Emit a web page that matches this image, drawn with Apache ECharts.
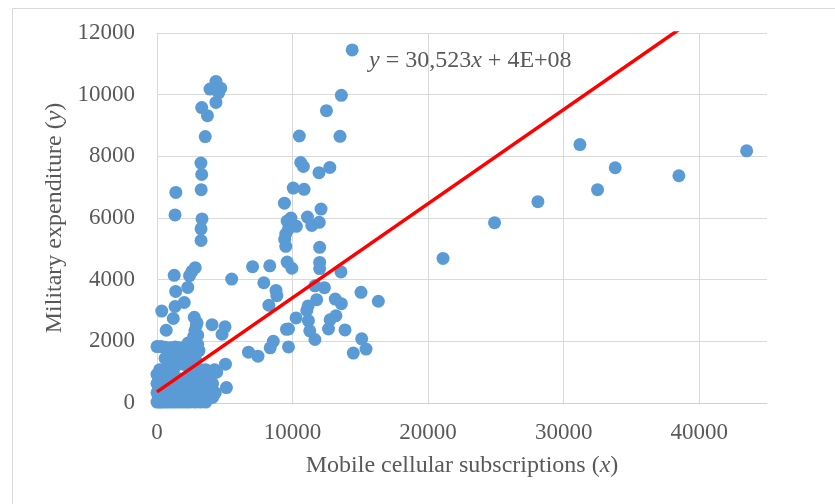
<!DOCTYPE html>
<html>
<head>
<meta charset="utf-8">
<script src="https://cdn.jsdelivr.net/npm/echarts@6/dist/echarts.min.js"></script>
<style>html,body{margin:0;padding:0;background:#fff}#c{width:835px;height:504px}</style>
</head>
<body>
<div id="c"></div>
<script>
// ---- Data ----
var xTicks = [0, 10000, 20000, 30000, 40000];
var yTicks = [0, 2000, 4000, 6000, 8000, 10000, 12000];
var trendSlope = 0.30523;
var trendIntercept = 360;
var trendXRange = [0, 43500];

var farRight = [[21100,4690],[24900,5850],[28100,6530],[31200,8380],[32500,6920],[33800,7630],[38500,7370],[43500,8180]];

var midHigh = [[14400,11450],[13600,9980],[12500,9480],[13500,8650],[10500,8660],[10600,7800],[10800,7670],[11950,7470],[12750,7640],
  [10050,6970],[10850,6930],[9400,6480],[12100,6290],[9880,6000],[11100,6030],[11420,5760],[11970,5860],[10280,5730],[9500,5480],
  [9420,5310],[9500,5080],[12000,5050],[9600,5900],[9700,5650]];

var midCluster = [[9600,4570],[9950,4370],[12000,4560],[12000,4360],[13570,4250],[7050,4420],[8320,4450],[5510,4020],[7880,3900],
  [8780,3650],[8840,3480],[8250,3170],[11650,3800],[12350,3740],[11780,3350],[13150,3370],[13600,3220],[15050,3590],[16330,3300],
  [11150,3150],[11050,3000],[10260,2760],[11170,2670],[12770,2700],[13200,2830],[12650,2400],[9700,2400],[9550,2390],[11270,2340],
  [11650,2060],[13870,2370],[15100,2080],[15420,1750],[14480,1620],[9700,1820],[8580,2000],[8350,1790],[6750,1650],[7450,1520],
  [5050,1260],[5120,500]];

var leftColumn = [[4350,10430],[3910,10180],[4700,10210],[4350,9750],[4550,10060],[3300,9580],[3720,9320],[3560,8640],[3240,7780],
  [3300,7410],[3260,6920],[3320,5970],[3250,5650],[3250,5270],[1390,6830],[1330,6100],
  [2820,4390],[2580,4270],[2400,4130],[1270,4140],[1380,3620],[2270,3750],[2010,3260],[1330,3130],[350,2980],[1200,2740],
  [680,2360],[2750,2780],[2900,2520],[4060,2540],[5020,2470],[4800,2230]];

var leftLow = [[0,1830],[300,1830],[600,1810],[1000,1790],[1350,1820],[1550,1800],[1900,1760],[2150,1850],[2400,1650],[2600,1950],
  [2700,2150],[2800,2350],[2950,2600],[2500,1450],[2700,1700],[2850,1950],[3000,2200],[2200,1450],[2000,1250],[1800,1550],
  [1600,1350],[1400,1650],[1200,1500],[1000,1350],[800,1150],[600,1450],[1300,1150],[2300,1950],[2600,1200],[2850,1400],
  [3100,1700],[3000,1900]];

var bottomBlob = [
  [0,30],[200,30],[400,30],[650,30],[900,30],[1200,30],[1500,30],[1800,30],[2100,30],[2400,30],[2800,30],[3200,30],[3600,30],
  [100,180],[350,180],[600,180],[850,180],[1100,180],[1400,180],[1700,180],[2000,180],[2300,180],[2600,180],[2900,180],[3300,180],[3700,180],[4100,180],
  [0,330],[250,330],[500,330],[750,330],[1000,330],[1300,330],[1600,330],[1900,330],[2200,330],[2500,330],[2800,330],[3100,330],[3400,330],[3800,330],[4300,330],
  [150,480],[400,480],[650,480],[900,480],[1200,480],[1500,480],[1800,480],[2100,480],[2400,480],[2700,480],[3000,480],[3300,480],[3600,480],[3900,480],
  [0,630],[300,630],[550,630],[800,630],[1050,630],[1350,630],[1650,630],[1950,630],[2250,630],[2550,630],[2850,630],[3150,630],[3450,630],[3750,630],[4100,630],
  [150,780],[450,780],[700,780],[1000,780],[1300,780],[1700,780],[2300,780],[2600,780],[2900,780],[3200,780],[3500,780],[3900,780],
  [0,930],[300,930],[600,930],[900,930],[1200,930],[2400,930],[2800,930],[3100,930],[3400,930],[3700,930],[4000,930],
  [200,1080],[500,1080],[3000,1080],[3300,1080],[3600,1080],[4250,1080],[4400,1000]];

var points = [].concat(farRight, midHigh, midCluster, leftColumn, leftLow, bottomBlob);

var FONT = '"Liberation Serif", "Times New Roman", serif';
var TXT = '#595959';

var chart = echarts.init(document.getElementById('c'), null, {renderer: 'canvas'});
chart.setOption({
  animation: false,
  backgroundColor: '#ffffff',
  grid: {left: 157, right: 68, top: 33, bottom: 101, containLabel: false},
  xAxis: {
    type: 'value', min: 0, max: 45000, interval: 10000,
    name: '{n|Mobile cellular subscriptions (}{i|x}{n|)}',
    nameLocation: 'middle', nameGap: 51,
    nameTextStyle: {rich: {
      n: {fontFamily: FONT, fontSize: 24, color: TXT},
      i: {fontFamily: FONT, fontSize: 24, color: TXT, fontStyle: 'italic'}
    }},
    axisLine: {show: true, lineStyle: {color: '#d0d0d0', width: 1}},
    axisTick: {show: false},
    axisLabel: {fontFamily: FONT, fontSize: 23, color: TXT, margin: 18, showMaxLabel: false,
      formatter: function (v) { return xTicks.indexOf(v) >= 0 ? String(v) : ''; }},
    splitLine: {show: true, showMaxLine: false, lineStyle: {color: '#d9d9d9', width: 1}}
  },
  yAxis: {
    type: 'value', min: 0, max: 12000, interval: 2000,
    name: '{n|Military expenditure (}{i|y}{n|)}',
    nameLocation: 'middle', nameGap: 84, nameRotate: 90,
    nameTextStyle: {rich: {
      n: {fontFamily: FONT, fontSize: 24, color: TXT},
      i: {fontFamily: FONT, fontSize: 24, color: TXT, fontStyle: 'italic'}
    }},
    axisLine: {show: false},
    axisTick: {show: false},
    axisLabel: {fontFamily: FONT, fontSize: 23, color: TXT, margin: 22,
      formatter: function (v) { return yTicks.indexOf(v) >= 0 ? String(v) : ''; }},
    splitLine: {show: true, lineStyle: {color: '#d9d9d9', width: 1}}
  },
  series: [
    {
      type: 'scatter', data: points, symbol: 'circle', symbolSize: 13,
      itemStyle: {color: '#5B9BD5', opacity: 1}, z: 2
    },
    {
      type: 'line', clip: true, symbol: 'none', z: 3,
      data: trendXRange.map(function (x) { return [x, trendSlope * x + trendIntercept]; }),
      lineStyle: {color: '#FF0000', width: 3.5}
    }
  ],
  graphic: [
    {type: 'rect', shape: {x: 12.5, y: 8.5, width: 900, height: 600},
     style: {fill: 'none', stroke: '#d9d9d9', lineWidth: 1}, silent: true, z: -1},
    {type: 'text', left: 369, top: 49, z: 10,
     style: {
       text: '{i|y}{n| = 30,523}{i|x}{n| + 4E+08}',
       rich: {
         n: {fontFamily: FONT, fontSize: 24, fill: TXT},
         i: {fontFamily: FONT, fontSize: 24, fill: TXT, fontStyle: 'italic'}
       }
     }}
  ]
});
</script>
</body>
</html>
